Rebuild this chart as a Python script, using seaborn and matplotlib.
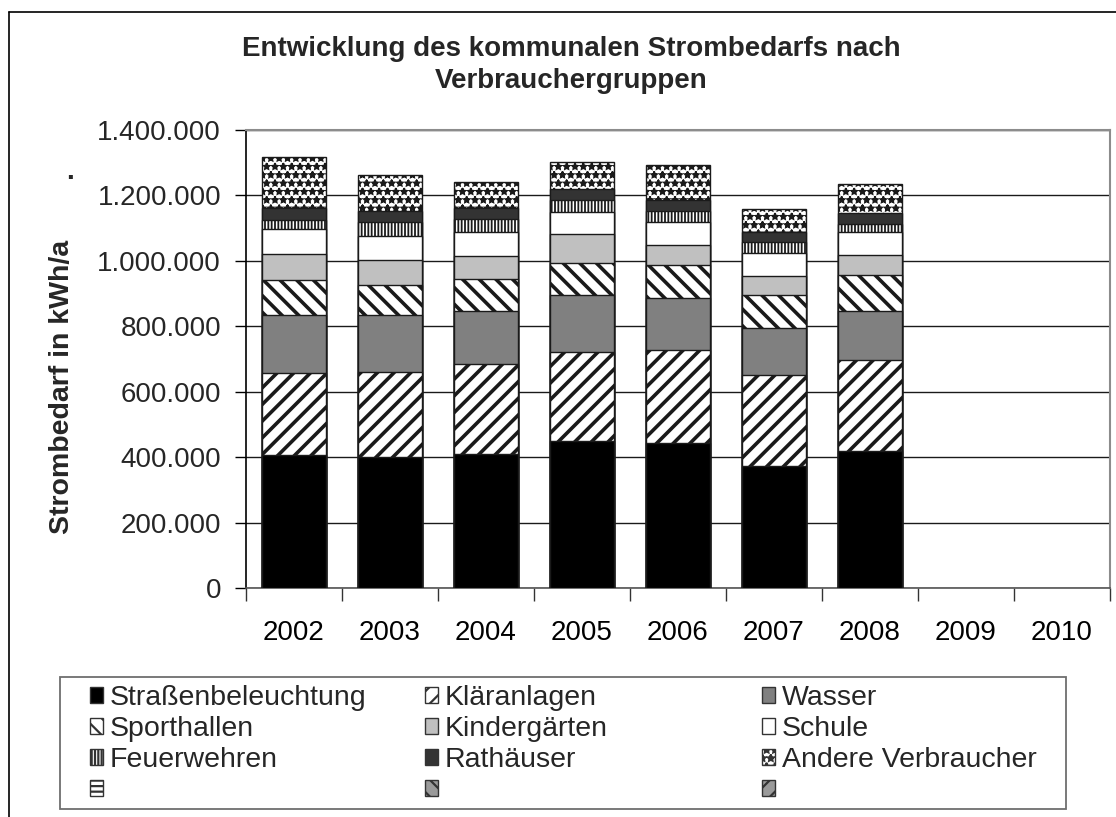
import numpy as np
import matplotlib.pyplot as plt
import seaborn as sns
from matplotlib.patches import Patch, Rectangle
from matplotlib.lines import Line2D
from matplotlib.ticker import FuncFormatter

# -----------------------------
# Data (kWh/a)
# -----------------------------
years = ["2002", "2003", "2004", "2005", "2006", "2007", "2008", "2009", "2010"]
data_years = ["2002", "2003", "2004", "2005", "2006", "2007", "2008"]

strassen = [406000, 401000, 411000, 449000, 443000, 373000, 419000]
klaer = [252000, 260000, 275000, 271000, 284000, 279000, 277000]
wasser = [178000, 173000, 160000, 175000, 160000, 143000, 151000]
sport = [105000, 92000, 99000, 99000, 100000, 100000, 111000]
kinder = [79000, 78000, 69000, 87000, 61000, 59000, 59000]
schule = [76000, 73000, 75000, 69000, 71000, 69000, 72000]
feuer = [28000, 43000, 38000, 36000, 34000, 35000, 25000]
rathaus = [38000, 31000, 35000, 33000, 33000, 31000, 31000]
andere = [154000, 112000, 80000, 82000, 107000, 69000, 91000]

series_names = ["Straßenbeleuchtung", "Kläranlagen", "Wasser", "Sporthallen",
                "Kindergärten", "Schule", "Feuerwehren", "Rathäuser",
                "Andere Verbraucher"]
series_values = [strassen, klaer, wasser, sport, kinder, schule, feuer, rathaus, andere]

# face colour, hatch, hatch linewidth
styles = [
    ("#000000", None, 1.0),
    ("#ffffff", "//", 2.6),
    ("#808080", None, 1.0),
    ("#ffffff", "\\\\", 2.6),
    ("#c0c0c0", None, 1.0),
    ("#ffffff", None, 1.0),
    ("#ffffff", "|||||", 1.3),
    ("#333333", None, 1.0),
    ("#ffffff", "**", 1.3),
]

# -----------------------------
# Style
# -----------------------------
sns.set_theme(style="white")
plt.rcParams['font.family'] = ['Liberation Sans', 'DejaVu Sans']
plt.rcParams['hatch.color'] = 'black'

fig = plt.figure(figsize=(11.16, 8.17), dpi=100)
ax = fig.add_axes([246 / 1116, 1 - 588 / 817, 864 / 1116, 458 / 817])

# -----------------------------
# Stacked bars (draw cumulative totals from top layer down)
# -----------------------------
cum = np.cumsum(np.array(series_values), axis=0)
for i in range(len(series_names) - 1, -1, -1):
    face, hatch, hlw = styles[i]
    plt.rcParams['hatch.linewidth'] = hlw
    n_before = len(ax.patches)
    sns.barplot(x=data_years, y=cum[i], order=years, color=face, saturation=1,
                hatch=hatch, edgecolor="#1a1a1a", linewidth=1.0, width=0.667,
                errorbar=None, ax=ax, zorder=3)
    for p in ax.patches[n_before:]:
        p.set_facecolor(face)
        if hasattr(p, "set_hatch_linewidth"):
            p.set_hatch_linewidth(hlw)

# -----------------------------
# Axes
# -----------------------------
ax.set_xlim(-0.5, 8.5)
ax.set_ylim(0, 1400000)
ax.set_yticks(np.arange(0, 1400001, 200000))
ax.yaxis.set_major_formatter(FuncFormatter(lambda v, p: f"{int(v):,}".replace(",", ".")))
ax.set_xlabel("")
ax.set_ylabel("")
ax.yaxis.grid(True, color="#1a1a1a", linewidth=1.0, zorder=0)
ax.set_axisbelow(True)

ax.set_xticks(np.arange(-0.5, 9, 1), minor=True)
ax.tick_params(axis="x", which="major", length=0, pad=23, labelsize=20, colors="black")
ax.tick_params(axis="x", which="minor", bottom=True, length=9, width=1, color="#333333",
               direction="out")
ax.tick_params(axis="y", left=True, length=8, width=1, pad=10, labelsize=20,
               color="black", direction="out")

for side in ["top", "right"]:
    ax.spines[side].set_color("#8c8c8c")
    ax.spines[side].set_linewidth(1.5)
ax.spines["left"].set_color("black")
ax.spines["bottom"].set_color("#555555")
for side in ["left", "bottom"]:
    ax.spines[side].set_linewidth(1.2)

# -----------------------------
# Texts
# -----------------------------
fig.text(571 / 1116, 1 - 65 / 817,
         "Entwicklung des kommunalen Strombedarfs nach\nVerbrauchergruppen",
         ha="center", va="center", fontsize=20, fontweight="bold", linespacing=1.3)
fig.text(62 / 1116, 1 - 387 / 817, "Strombedarf in kWh/a", rotation=90,
         ha="center", va="center", fontsize=20.5, fontweight="bold")
fig.text(70 / 1116, 1 - 172 / 817, ".", ha="center", va="center",
         fontsize=20, fontweight="bold")

# -----------------------------
# Legend (3 columns, row-wise order, incl. 3 empty entries)
# -----------------------------
plt.rcParams['hatch.linewidth'] = 1.6
handles = []
for (face, hatch, hlw) in styles:
    handles.append(Patch(facecolor=face, edgecolor="#333333", hatch=hatch, linewidth=1.0))
handles.append(Patch(facecolor="white", edgecolor="#333333", hatch="---", linewidth=1.0))
handles.append(Patch(facecolor="#9a9a9a", edgecolor="#333333", hatch="\\\\", linewidth=1.0))
handles.append(Patch(facecolor="#9a9a9a", edgecolor="#333333", hatch="//", linewidth=1.0))
labels = series_names + ["", "", ""]

col_x = [90, 425, 762]
for c in range(3):
    leg = fig.legend(handles[c::3], labels[c::3], loc="upper left",
                     bbox_to_anchor=(col_x[c] / 1116, 1 - 685 / 817),
                     bbox_transform=fig.transFigure, frameon=False,
                     fontsize=20.5, handlelength=0.47, handleheight=0.47,
                     handletextpad=0.22, labelspacing=0.18, borderpad=0,
                     borderaxespad=0)

fig.add_artist(Rectangle((60 / 1116, 1 - 809 / 817), 1006 / 1116, 132 / 817,
                         transform=fig.transFigure, fill=False,
                         edgecolor="#6e6e6e", linewidth=1.3))

# outer chart frame
fig.add_artist(Line2D([9 / 1116, 9 / 1116], [0, 1 - 12 / 817],
                      transform=fig.transFigure, color="black", linewidth=1.2))
fig.add_artist(Line2D([9 / 1116, 1], [1 - 12 / 817, 1 - 12 / 817],
                      transform=fig.transFigure, color="black", linewidth=1.2))

fig.savefig("out.png", dpi=100)
